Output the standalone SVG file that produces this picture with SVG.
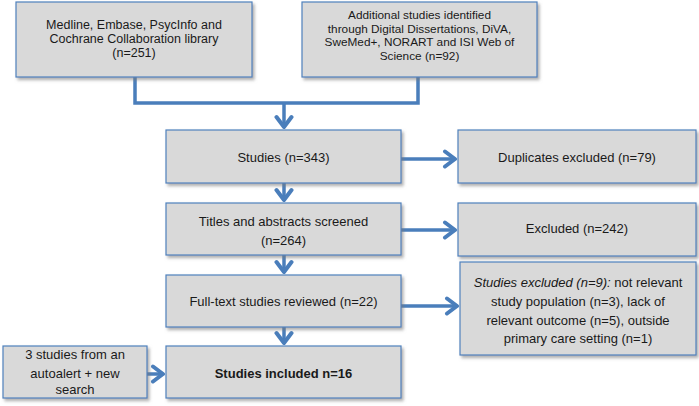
<svg xmlns="http://www.w3.org/2000/svg" width="699" height="406" viewBox="0 0 699 406">
<defs>
<style>
.box{fill:#d9d9d9;stroke:#4f81bd;stroke-width:1.2;filter:url(#sh)}
.t{font-family:"Liberation Sans",Arial,sans-serif;font-size:13px;fill:#1a1a1a;text-anchor:middle}
.s1{font-size:12.5px}
.s2{font-size:11.8px}
.c{fill:none;stroke:#4a7ebb;stroke-width:3.5}
.a{marker-end:url(#ah)}
</style>
<filter id="sh" x="-10%" y="-10%" width="120%" height="130%">
<feDropShadow dx="2" dy="2.5" stdDeviation="1.5" flood-color="#7a7a7a" flood-opacity="0.6"/>
</filter>
<marker id="ah" viewBox="0 0 16 20" markerWidth="16" markerHeight="20" refX="13" refY="10" orient="auto" markerUnits="userSpaceOnUse">
<path d="M3,2.5 L13,10 L3,17.5" fill="none" stroke="#4a7ebb" stroke-width="4" stroke-linejoin="round" stroke-linecap="round"/>
</marker>
</defs>
<rect width="699" height="406" fill="#ffffff"/>

<g id="connectors">
<polyline class="c" points="135,77 135,103 418,103 418,77"/>
<line class="c a" x1="284" y1="103" x2="284" y2="127"/>
<line class="c a" x1="401" y1="159" x2="455" y2="159"/>
<line class="c a" x1="284" y1="183" x2="284" y2="200"/>
<line class="c a" x1="401" y1="230" x2="455" y2="230"/>
<line class="c a" x1="284" y1="255" x2="284" y2="272"/>
<line class="c a" x1="401" y1="306" x2="457" y2="306"/>
<line class="c a" x1="284" y1="327" x2="284" y2="343"/>
<line class="c a" x1="147" y1="374" x2="163" y2="374"/>
</g>

<g id="n1">
<rect class="box" x="16" y="2" width="236" height="75"/>
<text class="t s1" x="134" y="29">Medline, Embase, PsycInfo and</text>
<text class="t s1" x="134" y="43">Cochrane Collaboration library</text>
<text class="t s1" x="134" y="57">(n=251)</text>
</g>

<g id="n2">
<rect class="box" x="302" y="2" width="235" height="75"/>
<text class="t s2" x="419.5" y="19">Additional studies identified</text>
<text class="t s2" x="419.5" y="32.5">through Digital Dissertations, DiVA,</text>
<text class="t s2" x="419.5" y="46">SweMed+, NORART and ISI Web of</text>
<text class="t s2" x="419.5" y="59.5">Science (n=92)</text>
</g>

<g id="n3">
<rect class="box" x="166" y="130" width="235" height="53"/>
<text class="t" x="283.5" y="162">Studies (n=343)</text>
</g>

<g id="n4">
<rect class="box" x="458" y="130" width="238" height="53"/>
<text class="t" x="577" y="162">Duplicates excluded (n=79)</text>
</g>

<g id="n5">
<rect class="box" x="166" y="203" width="235" height="52"/>
<text class="t" x="283.5" y="226">Titles and abstracts screened</text>
<text class="t" x="283.5" y="245">(n=264)</text>
</g>

<g id="n6">
<rect class="box" x="458" y="203" width="238" height="53"/>
<text class="t" x="577" y="233">Excluded (n=242)</text>
</g>

<g id="n7">
<rect class="box" x="166" y="275" width="235" height="52"/>
<text class="t" x="283.5" y="306">Full-text studies reviewed (n=22)</text>
</g>

<g id="n8">
<rect class="box" x="460" y="262" width="236" height="93"/>
<text class="t" x="578" y="287"><tspan font-style="italic">Studies excluded (n=9):</tspan> not  relevant</text>
<text class="t" x="578" y="306">study population  (n=3), lack of</text>
<text class="t" x="578" y="325">relevant outcome (n=5), outside</text>
<text class="t" x="578" y="343">primary care setting (n=1)</text>
</g>

<g id="n9">
<rect class="box" x="3" y="346" width="144" height="52"/>
<text class="t" x="75" y="359">3 studies from  an</text>
<text class="t" x="75" y="378">autoalert  + new</text>
<text class="t" x="75" y="394">search</text>
</g>

<g id="n10">
<rect class="box" x="166" y="346" width="235" height="52"/>
<text class="t" x="283.5" y="378" font-weight="bold" font-size="12.5">Studies included  n=16</text>
</g>
</svg>
